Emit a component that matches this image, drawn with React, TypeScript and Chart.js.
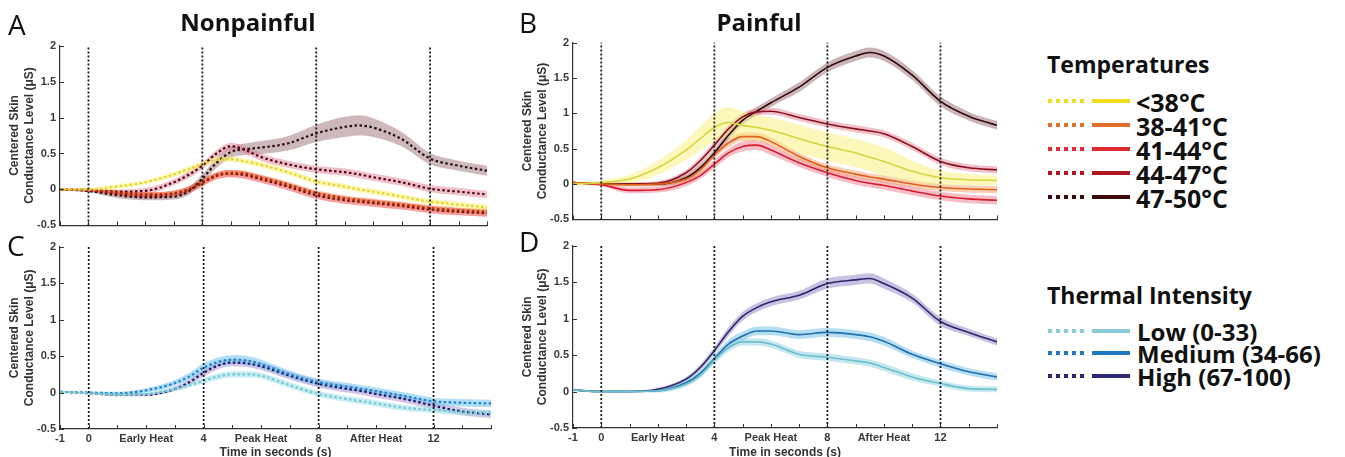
import React, { useEffect, useRef } from "react";
import { Chart, registerables } from "chart.js";

Chart.register(...registerables);

// ---------------- data ----------------
const TIME = [-1, 0, 1, 2, 3, 3.5, 4, 4.5, 5, 5.5, 6, 7, 8, 9, 9.5, 10, 11, 12, 13, 14];
const EVENT_TIMES = [0, 4, 8, 12];
const X_TICKS = [-1, 0, 1, 2, 3, 4, 5, 6, 7, 8, 9, 10, 11, 12, 13, 14];
const Y_TICKS = [-0.5, 0, 0.5, 1, 1.5, 2];
const Y_TICK_LABELS = ["-0.5", "0", "0.5", "1", "1.5", "2"];
const X_TICK_LABELS: Record<string, string> = {
  "-1": "-1",
  "0": "0",
  "2": "Early Heat",
  "4": "4",
  "6": "Peak Heat",
  "8": "8",
  "10": "After Heat",
  "12": "12",
};
const Y_TITLE = ["Centered Skin", "Conductance Level (μS)"];
const X_TITLE = "Time in seconds (s)";
const TEMP_LABELS = ["<38°C", "38-41°C", "41-44°C", "44-47°C", "47-50°C"];
const INTENSITY_LABELS = ["Low (0-33)", "Medium (34-66)", "High (67-100)"];

// Panel A – Nonpainful, temperatures
const A_LT38 = [0, 0, 0.04, 0.1, 0.21, 0.28, 0.35, 0.41, 0.42, 0.39, 0.35, 0.24, 0.11, 0.04, 0, -0.03, -0.1, -0.17, -0.21, -0.25];
const A_38_41 = [0, -0.01, -0.04, -0.07, -0.05, 0, 0.1, 0.2, 0.23, 0.22, 0.17, 0.07, -0.05, -0.12, -0.15, -0.17, -0.21, -0.26, -0.29, -0.31];
const A_41_44 = [0, -0.01, -0.05, -0.08, -0.06, -0.01, 0.09, 0.19, 0.22, 0.2, 0.15, 0.04, -0.08, -0.15, -0.17, -0.19, -0.23, -0.28, -0.31, -0.33];
const A_44_47 = [0, -0.01, -0.03, -0.02, 0.1, 0.2, 0.33, 0.5, 0.6, 0.55, 0.46, 0.35, 0.28, 0.24, 0.21, 0.17, 0.1, 0.01, -0.03, -0.07];
const A_47_50 = [0, -0.02, -0.08, -0.11, -0.1, -0.03, 0.15, 0.37, 0.52, 0.56, 0.58, 0.64, 0.78, 0.87, 0.89, 0.86, 0.7, 0.43, 0.33, 0.26];
// half-widths of the shaded error bands
const A_LT38_SE = [0.01, 0.02, 0.03, 0.03, 0.04, 0.04, 0.04, 0.04, 0.04, 0.04, 0.04, 0.04, 0.04, 0.04, 0.04, 0.04, 0.04, 0.04, 0.04, 0.04];
const A_38_41_SE = [0.01, 0.02, 0.03, 0.03, 0.04, 0.04, 0.04, 0.04, 0.04, 0.04, 0.04, 0.04, 0.04, 0.04, 0.04, 0.04, 0.04, 0.04, 0.04, 0.04];
const A_41_44_SE = [0.01, 0.02, 0.03, 0.04, 0.04, 0.05, 0.05, 0.05, 0.05, 0.05, 0.05, 0.05, 0.05, 0.05, 0.05, 0.05, 0.05, 0.05, 0.05, 0.05];
const A_44_47_SE = [0.01, 0.02, 0.03, 0.04, 0.04, 0.05, 0.05, 0.05, 0.05, 0.05, 0.05, 0.05, 0.05, 0.05, 0.05, 0.05, 0.05, 0.05, 0.05, 0.05];
const A_47_50_SE = [0.01, 0.02, 0.04, 0.04, 0.04, 0.05, 0.06, 0.07, 0.08, 0.08, 0.09, 0.1, 0.12, 0.14, 0.14, 0.13, 0.1, 0.08, 0.07, 0.07];

// Panel B – Painful, temperatures
const B_LT38 = [0, 0.02, 0.07, 0.23, 0.48, 0.64, 0.8, 0.87, 0.83, 0.8, 0.76, 0.64, 0.53, 0.44, 0.38, 0.32, 0.18, 0.09, 0.06, 0.05];
const B_38_41 = [0.02, 0, -0.01, 0, 0.07, 0.2, 0.41, 0.58, 0.67, 0.67, 0.6, 0.39, 0.23, 0.14, 0.1, 0.07, 0, -0.05, -0.07, -0.08];
const B_41_44 = [0.02, -0.01, -0.09, -0.08, 0.02, 0.12, 0.28, 0.44, 0.53, 0.55, 0.48, 0.3, 0.16, 0.05, 0.01, -0.02, -0.1, -0.17, -0.21, -0.23];
const B_44_47 = [0.02, 0, 0, 0.01, 0.16, 0.33, 0.55, 0.78, 0.95, 1.02, 1.03, 0.94, 0.85, 0.78, 0.75, 0.71, 0.53, 0.32, 0.23, 0.2];
const B_47_50 = [0.02, 0, 0, 0, 0.09, 0.23, 0.44, 0.69, 0.9, 1.03, 1.15, 1.37, 1.65, 1.81, 1.86, 1.81, 1.54, 1.17, 0.96, 0.83];
const B_LT38_SE = [0.02, 0.03, 0.06, 0.1, 0.14, 0.17, 0.2, 0.22, 0.2, 0.18, 0.18, 0.2, 0.2, 0.2, 0.2, 0.2, 0.15, 0.1, 0.08, 0.07];
const B_38_41_SE = [0.01, 0.02, 0.03, 0.03, 0.04, 0.05, 0.05, 0.06, 0.06, 0.06, 0.06, 0.05, 0.05, 0.05, 0.05, 0.05, 0.05, 0.05, 0.05, 0.05];
const B_41_44_SE = [0.01, 0.02, 0.04, 0.04, 0.05, 0.05, 0.06, 0.06, 0.07, 0.07, 0.07, 0.06, 0.06, 0.06, 0.06, 0.06, 0.06, 0.06, 0.06, 0.06];
const B_44_47_SE = [0.01, 0.02, 0.02, 0.03, 0.04, 0.05, 0.05, 0.05, 0.05, 0.05, 0.05, 0.05, 0.05, 0.05, 0.05, 0.05, 0.05, 0.05, 0.05, 0.05];
const B_47_50_SE = [0.01, 0.02, 0.02, 0.03, 0.04, 0.05, 0.05, 0.06, 0.06, 0.06, 0.06, 0.07, 0.07, 0.07, 0.07, 0.07, 0.07, 0.07, 0.06, 0.06];

// Panel C – Nonpainful, thermal intensity
const C_LOW = [0.01, -0.01, -0.03, -0.02, 0.05, 0.1, 0.16, 0.22, 0.25, 0.25, 0.23, 0.1, -0.02, -0.09, -0.12, -0.15, -0.21, -0.24, -0.27, -0.28];
const C_MED = [0.01, 0, -0.01, 0.03, 0.13, 0.22, 0.34, 0.42, 0.45, 0.44, 0.39, 0.25, 0.14, 0.08, 0.05, 0.02, -0.05, -0.12, -0.14, -0.15];
const C_HIGH = [0.01, -0.01, -0.03, -0.03, 0.05, 0.14, 0.27, 0.37, 0.41, 0.4, 0.36, 0.23, 0.12, 0.05, 0.02, -0.02, -0.09, -0.18, -0.26, -0.3];
const C_LOW_SE = [0.01, 0.01, 0.02, 0.02, 0.03, 0.03, 0.04, 0.04, 0.04, 0.04, 0.04, 0.04, 0.04, 0.04, 0.04, 0.04, 0.04, 0.04, 0.04, 0.04];
const C_MED_SE = [0.01, 0.01, 0.02, 0.03, 0.04, 0.05, 0.06, 0.06, 0.06, 0.06, 0.06, 0.05, 0.05, 0.05, 0.05, 0.05, 0.05, 0.05, 0.05, 0.05];
const C_HIGH_SE = [0.01, 0.01, 0.02, 0.02, 0.03, 0.04, 0.05, 0.05, 0.05, 0.05, 0.05, 0.05, 0.05, 0.05, 0.05, 0.05, 0.05, 0.05, 0.05, 0.05];

// Panel D – Painful, thermal intensity
const D_LOW = [0.02, 0, 0, 0.01, 0.1, 0.22, 0.43, 0.6, 0.68, 0.68, 0.65, 0.51, 0.47, 0.42, 0.39, 0.33, 0.2, 0.11, 0.04, 0.03];
const D_MED = [0.02, 0, 0, 0.01, 0.12, 0.25, 0.45, 0.65, 0.76, 0.83, 0.83, 0.78, 0.81, 0.78, 0.75, 0.69, 0.51, 0.38, 0.27, 0.2];
const D_HIGH = [0.02, 0, 0, 0.03, 0.17, 0.33, 0.56, 0.82, 1.03, 1.15, 1.23, 1.32, 1.48, 1.53, 1.55, 1.48, 1.28, 0.96, 0.81, 0.68];
const D_LOW_SE = [0.01, 0.01, 0.01, 0.02, 0.03, 0.04, 0.05, 0.05, 0.05, 0.05, 0.05, 0.05, 0.05, 0.05, 0.05, 0.05, 0.05, 0.04, 0.04, 0.04];
const D_MED_SE = [0.01, 0.01, 0.01, 0.02, 0.03, 0.04, 0.05, 0.06, 0.06, 0.06, 0.06, 0.06, 0.06, 0.06, 0.06, 0.06, 0.05, 0.05, 0.05, 0.05];
const D_HIGH_SE = [0.01, 0.01, 0.01, 0.02, 0.03, 0.04, 0.05, 0.06, 0.06, 0.06, 0.06, 0.06, 0.07, 0.07, 0.07, 0.07, 0.06, 0.06, 0.05, 0.05];

// ---------------- styles ----------------
type Style = { line: string; band: string };
const A_STYLES: Style[] = [
  { line: "#e2d52a", band: "rgba(250,240,110,0.5)" },
  { line: "#a83010", band: "rgba(240,120,60,0.45)" },
  { line: "#6a1018", band: "rgba(240,60,60,0.5)" },
  { line: "#4a0a14", band: "rgba(228,128,148,0.5)" },
  { line: "#2a1010", band: "rgba(155,115,120,0.5)" },
];
const B_STYLES: Style[] = [
  { line: "#d6d640", band: "rgba(250,240,120,0.5)" },
  { line: "#e06020", band: "rgba(245,150,90,0.45)" },
  { line: "#d81c30", band: "rgba(240,110,130,0.45)" },
  { line: "#8c1020", band: "rgba(220,120,140,0.45)" },
  { line: "#2e0a0a", band: "rgba(140,90,100,0.45)" },
];
const C_STYLES: Style[] = [
  { line: "#78c8d0", band: "rgba(140,220,230,0.5)" },
  { line: "#2080c8", band: "rgba(100,190,240,0.5)" },
  { line: "#1c1a5a", band: "rgba(170,140,210,0.5)" },
];
const D_STYLES: Style[] = [
  { line: "#70c0cc", band: "rgba(140,210,225,0.5)" },
  { line: "#2070b0", band: "rgba(110,190,230,0.5)" },
  { line: "#2c2868", band: "rgba(150,130,200,0.5)" },
];
const TEMP_COLORS = ["#f0dc20", "#e07030", "#e02830", "#b01520", "#3a0a0a"];
const INTENSITY_COLORS = ["#88ccd8", "#1f78c0", "#2b2a6e"];

const Y_MIN = -0.5;
const Y_MAX = 2;
const FONT = "'Liberation Sans', Arial, sans-serif";
const LEGEND_FONT = "'Open Sans', sans-serif";

function buildDatasets(values: number[][], se: number[][], styles: Style[], dotted: boolean) {
  const ds: any[] = [];
  values.forEach((vals, s) => {
    const w = se[s];
    ds.push({
      data: TIME.map((t, i) => ({ x: t, y: vals[i] + w[i] })),
      fill: "+1",
      backgroundColor: styles[s].band,
      borderWidth: 0,
      pointRadius: 0,
      order: 10,
      cubicInterpolationMode: "monotone",
    });
    ds.push({
      data: TIME.map((t, i) => ({ x: t, y: vals[i] - w[i] })),
      fill: false,
      borderWidth: 0,
      pointRadius: 0,
      order: 10,
      cubicInterpolationMode: "monotone",
    });
  });
  values.forEach((vals, s) => {
    ds.push({
      data: TIME.map((t, i) => ({ x: t, y: vals[i] })),
      borderColor: styles[s].line,
      borderWidth: dotted ? 2.2 : 1.6,
      borderDash: dotted ? [2.5, 2.5] : [],
      pointRadius: 0,
      fill: false,
      order: 1,
      cubicInterpolationMode: "monotone",
    });
  });
  EVENT_TIMES.forEach((t) => {
    ds.push({
      data: [
        { x: t, y: Y_MIN },
        { x: t, y: Y_MAX },
      ],
      borderColor: "#1a1a1a",
      borderWidth: 1.8,
      borderDash: [2, 2],
      pointRadius: 0,
      fill: false,
      order: 0,
    });
  });
  return ds;
}

const inwardTicks = {
  id: "inwardTicks",
  afterDraw(chart: any) {
    const { ctx, chartArea, scales } = chart;
    ctx.save();
    ctx.strokeStyle = "#333";
    ctx.lineWidth = 1;
    ctx.beginPath();
    for (const t of X_TICKS) {
      const x = Math.round(scales.x.getPixelForValue(t)) + 0.5;
      ctx.moveTo(x, chartArea.bottom);
      ctx.lineTo(x, chartArea.bottom - 4);
    }
    for (const v of Y_TICKS) {
      const y = Math.round(scales.y.getPixelForValue(v)) + 0.5;
      ctx.moveTo(chartArea.left, y);
      ctx.lineTo(chartArea.left + 4, y);
    }
    ctx.stroke();
    ctx.restore();
  },
};

type PanelCfg = {
  left: number;
  top: number;
  width: number;
  height: number;
  xHeight: number;
  showX: boolean;
  values: number[][];
  se: number[][];
  styles: Style[];
  dotted: boolean;
};

function Panel({ cfg }: { cfg: PanelCfg }) {
  const ref = useRef<HTMLCanvasElement | null>(null);
  useEffect(() => {
    if (!ref.current) return;
    const chart = new Chart(ref.current, {
      type: "line",
      data: { datasets: buildDatasets(cfg.values, cfg.se, cfg.styles, cfg.dotted) },
      options: {
        responsive: false,
        animation: false,
        events: [],
        layout: { padding: { left: 0, right: 8, top: 8, bottom: 0 } },
        plugins: { legend: { display: false }, tooltip: { enabled: false } },
        scales: {
          x: {
            type: "linear",
            min: -1,
            max: 14,
            afterFit: (s: any) => {
              s.height = cfg.xHeight;
            },
            grid: { display: false, drawTicks: false },
            border: { display: true, color: "#333", width: 1.2 },
            ticks: {
              display: cfg.showX,
              stepSize: 1,
              autoSkip: false,
              maxRotation: 0,
              padding: 3,
              color: "#3a3a3a",
              font: { family: FONT, size: 11, weight: "bold" },
              callback: (v: any) => X_TICK_LABELS[String(v)] ?? "",
            },
            title: {
              display: cfg.showX,
              text: X_TITLE,
              color: "#333",
              font: { family: FONT, size: 12, weight: "bold" },
              padding: { top: 0, bottom: -3 },
            },
          },
          y: {
            min: Y_MIN,
            max: Y_MAX,
            afterFit: (s: any) => {
              s.width = 60;
            },
            grid: { display: false, drawTicks: false },
            border: { display: true, color: "#333", width: 1.2 },
            ticks: {
              stepSize: 0.5,
              padding: 4,
              color: "#3a3a3a",
              font: { family: FONT, size: 11, weight: "bold" },
              callback: (v: any) => {
                const i = Y_TICKS.findIndex((t) => Math.abs(t - Number(v)) < 1e-6);
                return i >= 0 ? Y_TICK_LABELS[i] : "";
              },
            },
            title: {
              display: true,
              text: Y_TITLE,
              color: "#333",
              font: { family: FONT, size: 12, weight: "bold", lineHeight: 1.25 },
              padding: { top: 7, bottom: 0 },
            },
          },
        },
      } as any,
      plugins: [inwardTicks],
    });
    return () => chart.destroy();
  }, [cfg]);
  return (
    <canvas
      ref={ref}
      width={cfg.width}
      height={cfg.height}
      style={{ position: "absolute", left: cfg.left, top: cfg.top, width: cfg.width, height: cfg.height }}
    />
  );
}

const PANEL_A: PanelCfg = { left: 0, top: 35, width: 495, height: 201, xHeight: 8, showX: false, values: [A_LT38, A_38_41, A_41_44, A_44_47, A_47_50], se: [A_LT38_SE, A_38_41_SE, A_41_44_SE, A_44_47_SE, A_47_50_SE], styles: A_STYLES, dotted: true };
const PANEL_B: PanelCfg = { left: 513, top: 32, width: 492, height: 198, xHeight: 8, showX: false, values: [B_LT38, B_38_41, B_41_44, B_44_47, B_47_50], se: [B_LT38_SE, B_38_41_SE, B_41_44_SE, B_44_47_SE, B_47_50_SE], styles: B_STYLES, dotted: false };
const PANEL_C: PanelCfg = { left: 0, top: 236, width: 499, height: 221, xHeight: 28, showX: true, values: [C_LOW, C_MED, C_HIGH], se: [C_LOW_SE, C_MED_SE, C_HIGH_SE], styles: C_STYLES, dotted: true };
const PANEL_D: PanelCfg = { left: 513, top: 235, width: 492, height: 222, xHeight: 29, showX: true, values: [D_LOW, D_MED, D_HIGH], se: [D_LOW_SE, D_MED_SE, D_HIGH_SE], styles: D_STYLES, dotted: false };

function Text({ x, y, size, weight, children, center }: any) {
  return (
    <div
      style={{
        position: "absolute",
        left: center ? x - 200 : x,
        width: center ? 400 : undefined,
        textAlign: center ? "center" : "left",
        top: y - size * 0.53,
        fontFamily: LEGEND_FONT,
        fontSize: size,
        fontWeight: weight,
        lineHeight: `${size}px`,
        color: "#111",
        whiteSpace: "nowrap",
      }}
    >
      {children}
    </div>
  );
}

function LegendRow({ y, color, label, textX, size }: any) {
  return (
    <>
      <div
        style={{
          position: "absolute",
          left: 1048,
          top: y - 2,
          width: 40,
          height: 4,
          background: `repeating-linear-gradient(to right, ${color} 0px, ${color} 4px, transparent 4px, transparent 8px)`,
        }}
      />
      <div style={{ position: "absolute", left: 1092, top: y - 2, width: 38, height: 4, background: color }} />
      <Text x={textX} y={y + 2} size={size} weight={700}>
        {label}
      </Text>
    </>
  );
}

const TEMP_ROWS_Y = [101, 125, 149, 173, 197];
const INTENSITY_ROWS_Y = [331, 353, 376];

export default function App() {
  return (
    <div style={{ position: "absolute", left: 0, top: 0, width: 1345, height: 457, background: "#fff", overflow: "hidden" }}>
      <Panel cfg={PANEL_A} />
      <Panel cfg={PANEL_B} />
      <Panel cfg={PANEL_C} />
      <Panel cfg={PANEL_D} />
      <Text x={8} y={25} size={28} weight={400}>A</Text>
      <Text x={519} y={23} size={28} weight={400}>B</Text>
      <Text x={7} y={246} size={28} weight={400}>C</Text>
      <Text x={519} y={242} size={28} weight={400}>D</Text>
      <Text x={248} y={23} size={24} weight={700} center>Nonpainful</Text>
      <Text x={759} y={23} size={24} weight={700} center>Painful</Text>
      <Text x={1047} y={65} size={23} weight={700}>Temperatures</Text>
      {TEMP_LABELS.map((l, i) => (
        <LegendRow key={l} y={TEMP_ROWS_Y[i]} color={TEMP_COLORS[i]} label={l} textX={1136} size={25} />
      ))}
      <Text x={1047} y={296} size={23} weight={700}>Thermal Intensity</Text>
      {INTENSITY_LABELS.map((l, i) => (
        <LegendRow key={l} y={INTENSITY_ROWS_Y[i]} color={INTENSITY_COLORS[i]} label={l} textX={1137} size={24} />
      ))}
    </div>
  );
}
